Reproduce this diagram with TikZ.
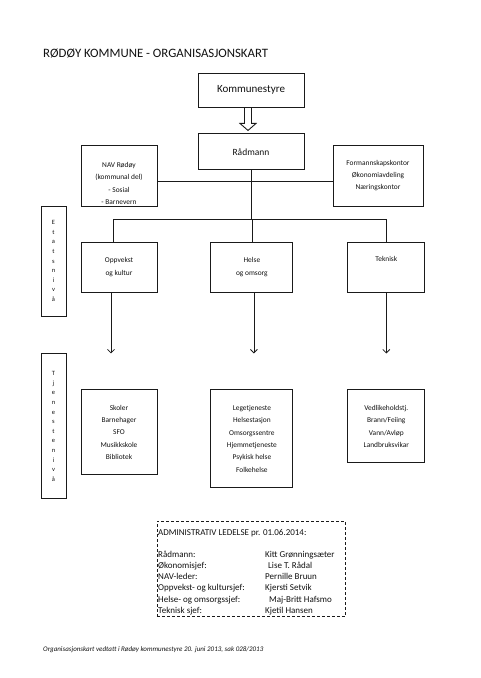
\documentclass[tikz,border=0pt]{standalone}
\usepackage{fontspec}
\setmainfont{Carlito}
\usepackage{tikz}
\usetikzlibrary{positioning,arrows.meta}
\definecolor{frame}{HTML}{1A1A1A}
\definecolor{ink}{HTML}{111111}
\tikzset{
  topbox/.style={rectangle, draw=frame, line width=0.9pt, minimum width=106pt,
                 inner sep=1pt, align=center, text=ink},
  unitbox/.style={rectangle, draw=frame, line width=0.9pt, inner sep=1pt,
                  align=center, text=ink, font=\fontsize{7.4}{12.3}\selectfont},
  levelbox/.style={rectangle, draw=frame, line width=0.9pt, minimum width=25pt,
                   inner sep=1pt, align=center, text=ink, font=\fontsize{6.5}{9.6}\selectfont},
  adminbox/.style={rectangle, draw=frame, line width=0.9pt, dash pattern=on 3pt off 2pt,
                   minimum width=188.5pt, minimum height=95pt},
  admintext/.style={inner sep=0pt, text=ink, font=\fontsize{9}{11.3}\selectfont},
  line/.style={draw=frame, line width=0.8pt},
  arr/.style={-{Straight Barb[length=3.5pt,width=7pt]}, line width=0.8pt, draw=frame},
  hollow/.style={draw=frame, line width=0.9pt, line join=miter},
}

\begin{document}
\begin{tikzpicture}[x=1pt, y=1pt]
    \useasboundingbox (0,0) rectangle (480,678);

    %% --- title ---
    \node[anchor=base west, inner sep=0pt, text=ink, font=\fontsize{12.8}{14}\selectfont] (title) at (43,620)
        {RØDØY KOMMUNE - ORGANISASJONSKART};

    %% --- top level ---
    \node[topbox, minimum height=34pt, font=\fontsize{11}{13}\selectfont] (komm) at (251,588) {Kommunestyre};
    \node[topbox, minimum height=36pt, font=\fontsize{9.5}{12}\selectfont, below=26pt of komm] (raad) {Rådmann};
    \draw[hollow] ([xshift=-6.5pt]komm.south) -- ++(0,-16) -- ++(-4.5,0)
        -- ([xshift=-3pt,yshift=3pt]raad.north) -- ++(8,7) -- ++(-4.5,0) -- ++(0,16);

    %% --- staff ---
    \node[unitbox, minimum width=76pt, minimum height=61pt] (nav) at (119,502.5)
        {\strut\\NAV Rødøy\\(kommunal del)\\- Sosial\\- Barnevern};
    \node[unitbox, minimum width=90pt, minimum height=61pt] (form) at (378,502.5)
        {Formannskapskontor\\Økonomiavdeling\\Næringskontor};
    \draw[line] ([yshift=-5.5pt]nav.east) -- ([yshift=-5.5pt]form.west);

    %% --- etatsnivå ---
    \node[unitbox, minimum width=76pt, minimum height=50pt] (opp) at (119,411) {Oppvekst\\og kultur};
    \node[unitbox, minimum width=82pt, minimum height=50pt, right=53pt of opp] (hel) {Helse\\og omsorg};
    \node[unitbox, minimum width=77pt, minimum height=50pt, right=54pt of hel] (tek) {Teknisk\\\strut};
    \coordinate[below=49pt of raad.south] (fork);
    \draw[line] (raad.south) -- (fork);
    \draw[line] ([xshift=-6pt]opp.north) |- (fork) -| (tek.north);
    \draw[line] (fork -| hel.north) -- (hel.north);

    %% --- level labels ---
    \node[levelbox, minimum height=110pt] (etat) at (53.5,417) {E\\t\\a\\t\\s\\n\\i\\v\\å};
    \node[levelbox, minimum height=145pt, below=37pt of etat] (tjen) {T\\j\\e\\n\\e\\s\\t\\e\\n\\i\\v\\å};

    %% --- tjenestenivå ---
    \node[unitbox, minimum width=76pt, minimum height=85pt, below=97pt of opp] (skol)
        {Skoler\\Barnehager\\SFO\\Musikkskole\\Bibliotek};
    \node[unitbox, minimum width=82pt, minimum height=98pt, below=97pt of hel] (lege)
        {Legetjeneste\\Helsestasjon\\Omsorgssentre\\Hjemmetjeneste\\Psykisk helse\\Folkehelse};
    \node[unitbox, minimum width=77pt, minimum height=73pt, below=97pt of tek] (vedl)
        {Vedlikeholdstj.\\Brann/Feiing\\Vann/Avløp\\Landbruksvikar};
    \draw[arr] ([xshift=-8pt]opp.south) -- ([xshift=-8pt]opp.south |- tjen.north);
    \draw[arr] ([xshift=2pt]hel.south) -- ([xshift=2pt]hel.south |- tjen.north);
    \draw[arr] (tek.south) -- (tek.south |- tjen.north);

    %% --- administrativ ledelse ---
    \node[adminbox, anchor=north west] (admin) at (156.5,157) {};
    \node[admintext, anchor=north west] (admintab) at ([xshift=1.5pt,yshift=-6.6pt]admin.north west) {%
      \begin{tabular}{@{}p{107pt}@{}l@{}}
        \multicolumn{2}{@{}l@{}}{ADMINISTRATIV LEDELSE pr. 01.06.2014:}\\[10pt]
        Rådmann: & Kitt Grønningsæter\\
        Økonomisjef: & \hspace*{3pt}Lise T. Rådal\\
        NAV-leder: & Pernille Bruun\\
        Oppvekst- og kultursjef: & Kjersti Setvik\\
        Helse- og omsorgssjef: & \hspace*{4pt}Maj-Britt Hafsmo\\
        Teknisk sjef: & Kjetil Hansen
      \end{tabular}};

    %% --- footer ---
    \node[anchor=base west, inner sep=0pt, text=ink, font=\itshape\fontsize{7}{9}\selectfont] (foot) at (43,26)
        {Organisasjonskart vedtatt i Rødøy kommunestyre 20. juni 2013, sak 028/2013};
\end{tikzpicture}
\end{document}
